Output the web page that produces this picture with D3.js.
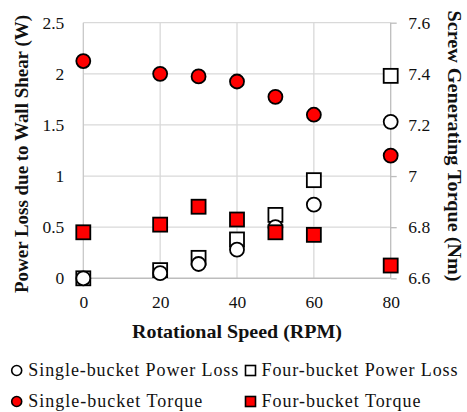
<!DOCTYPE html>
<html>
<head>
<meta charset="utf-8">
<script src="https://cdn.jsdelivr.net/npm/d3@7"></script>
</head>
<body style="margin:0">
<svg id="chart" width="467" height="412"></svg>
<script>
// Rotational speeds (RPM)
const speeds = [0, 20, 30, 40, 50, 60, 80];
const xTicks = [0, 20, 40, 60, 80];

// Power loss due to wall shear (W), left axis
const singlePowerLoss = [0.0, 0.05, 0.14, 0.28, 0.50, 0.72, 1.53];
const fourPowerLoss   = [0.0, 0.08, 0.20, 0.38, 0.62, 0.96, 1.98];

// Screw generating torque (Nm), right axis
const singleTorque = [7.45, 7.40, 7.39, 7.37, 7.31, 7.24, 7.08];
const fourTorque   = [6.78, 6.81, 6.88, 6.83, 6.78, 6.77, 6.65];

const leftTicks  = [0, 0.5, 1, 1.5, 2, 2.5];
const rightTicks = [6.6, 6.8, 7.0, 7.2, 7.4, 7.6];

const seriesNames = [
  "Single-bucket Power Loss", "Four-bucket Power Loss",
  "Single-bucket Torque", "Four-bucket Torque"
];

const FONT = "Liberation Serif";
const INK = "#111";
const svg = d3.select("#chart");
const m = { left: 83.3, right: 390.7, top: 22.7, bottom: 278.3 };

const x = d3.scaleLinear().domain([0, 80]).range([m.left, m.right]);
const yL = d3.scaleLinear().domain([0, 2.5]).range([m.bottom, m.top]);
const yR = d3.scaleLinear().domain([6.6, 7.6]).range([m.bottom, m.top]);

// gridlines
const grid = svg.append("g");
grid.selectAll("line.h").data(leftTicks.slice(1)).join("line")
  .attr("x1", m.left).attr("x2", m.right)
  .attr("y1", d => yL(d)).attr("y2", d => yL(d))
  .attr("stroke", "#d9d9d9").attr("stroke-width", 1.3);
grid.selectAll("line.v").data(xTicks.slice(1, -1)).join("line")
  .attr("x1", d => x(d)).attr("x2", d => x(d))
  .attr("y1", m.top).attr("y2", m.bottom)
  .attr("stroke", "#d9d9d9").attr("stroke-width", 1.3);

// frame lines: left, right, bottom
svg.append("line").attr("x1", m.left).attr("x2", m.left).attr("y1", m.top).attr("y2", m.bottom)
  .attr("stroke", "#c8c8c8").attr("stroke-width", 1.3);
svg.append("line").attr("x1", m.right).attr("x2", m.right).attr("y1", m.top).attr("y2", m.bottom)
  .attr("stroke", "#bdbdbd").attr("stroke-width", 1.3);
svg.append("line").attr("x1", m.left).attr("x2", m.right).attr("y1", m.bottom).attr("y2", m.bottom)
  .attr("stroke", "#bdbdbd").attr("stroke-width", 1.6);

// axes
const axisFont = 17.5;
function styleAxis(g) {
  g.attr("font-family", FONT).attr("font-size", axisFont);
  g.select(".domain").remove();
  g.selectAll("text").attr("font-family", FONT).attr("font-size", axisFont).attr("fill", INK);
}
const left = svg.append("g").attr("transform", `translate(${m.left},0)`)
  .call(d3.axisLeft(yL).tickValues(leftTicks).tickSize(0).tickPadding(19)
    .tickFormat(d3.format("~g")));
styleAxis(left);

const right = svg.append("g").attr("transform", `translate(${m.right},0)`)
  .call(d3.axisRight(yR).tickValues(rightTicks).tickSize(6).tickPadding(11.6)
    .tickFormat(d => d === 7 ? "7" : d3.format(".1f")(d)));
styleAxis(right);
right.selectAll("line").attr("stroke", "#bdbdbd").attr("stroke-width", 1.3);

const bottom = svg.append("g").attr("transform", `translate(0,${m.bottom})`)
  .call(d3.axisBottom(x).tickValues(xTicks).tickSize(0).tickPadding(17.5));
styleAxis(bottom);

// axis titles
const titles = [
  { text: "Power Loss due to Wall Shear (W)", tf: "translate(28,154) rotate(-90)", len: 278 },
  { text: "Screw Generating Torque (Nm)", tf: "translate(448,146) rotate(90)", len: 271 },
  { text: "Rotational Speed (RPM)", tf: "translate(237,338)", len: 210 }
];
svg.append("g").selectAll("text").data(titles).join("text")
  .attr("transform", d => d.tf)
  .attr("text-anchor", "middle")
  .attr("font-family", FONT)
  .attr("font-size", 19.5)
  .attr("font-weight", "bold")
  .attr("fill", INK)
  .attr("textLength", d => d.len)
  .attr("lengthAdjust", "spacingAndGlyphs")
  .text(d => d.text);

// markers
const R = 7, S = 14;
const pts = svg.append("g");
pts.selectAll("rect.fpl").data(speeds).join("rect")
  .attr("x", d => x(d) - S / 2).attr("y", (d, i) => yL(fourPowerLoss[i]) - S / 2)
  .attr("width", S).attr("height", S)
  .attr("fill", "#fff").attr("stroke", "#000").attr("stroke-width", 1.8);
pts.selectAll("circle.spl").data(speeds).join("circle")
  .attr("cx", d => x(d)).attr("cy", (d, i) => yL(singlePowerLoss[i])).attr("r", R)
  .attr("fill", "#fff").attr("stroke", "#000").attr("stroke-width", 1.8);
pts.selectAll("circle.st").data(speeds).join("circle")
  .attr("cx", d => x(d)).attr("cy", (d, i) => yR(singleTorque[i])).attr("r", R)
  .attr("fill", "#ff0000").attr("stroke", "#000").attr("stroke-width", 1.8);
pts.selectAll("rect.ft").data(speeds).join("rect")
  .attr("x", d => x(d) - S / 2).attr("y", (d, i) => yR(fourTorque[i]) - S / 2)
  .attr("width", S).attr("height", S)
  .attr("fill", "#ff0000").attr("stroke", "#000").attr("stroke-width", 1.8);

// legend
const legendItems = [
  { name: seriesNames[0], shape: "circle", fill: "#fff", mx: 16.7, tx: 28.3, y: 370.5, len: 210 },
  { name: seriesNames[1], shape: "rect",   fill: "#fff", mx: 250.5, tx: 261.5, y: 370.5, len: 196 },
  { name: seriesNames[2], shape: "circle", fill: "#ff0000", mx: 16.7, tx: 28.3, y: 401.5, len: 174 },
  { name: seriesNames[3], shape: "rect",   fill: "#ff0000", mx: 250.5, tx: 261.5, y: 401.5, len: 159 }
];
const legend = svg.append("g");
legend.selectAll("circle").data(legendItems.filter(d => d.shape === "circle")).join("circle")
  .attr("cx", d => d.mx).attr("cy", d => d.y).attr("r", 5)
  .attr("fill", d => d.fill).attr("stroke", "#000").attr("stroke-width", 1.6);
legend.selectAll("rect").data(legendItems.filter(d => d.shape === "rect")).join("rect")
  .attr("x", d => d.mx - 5).attr("y", d => d.y - 5).attr("width", 10).attr("height", 10)
  .attr("fill", d => d.fill).attr("stroke", "#000").attr("stroke-width", 1.6);
legend.selectAll("text").data(legendItems).join("text")
  .attr("x", d => d.tx).attr("y", d => d.y + 5.8)
  .attr("font-family", FONT)
  .attr("font-size", 18)
  .attr("fill", INK)
  .attr("textLength", d => d.len)
  .attr("lengthAdjust", "spacing")
  .text(d => d.name);
</script>
</body>
</html>
